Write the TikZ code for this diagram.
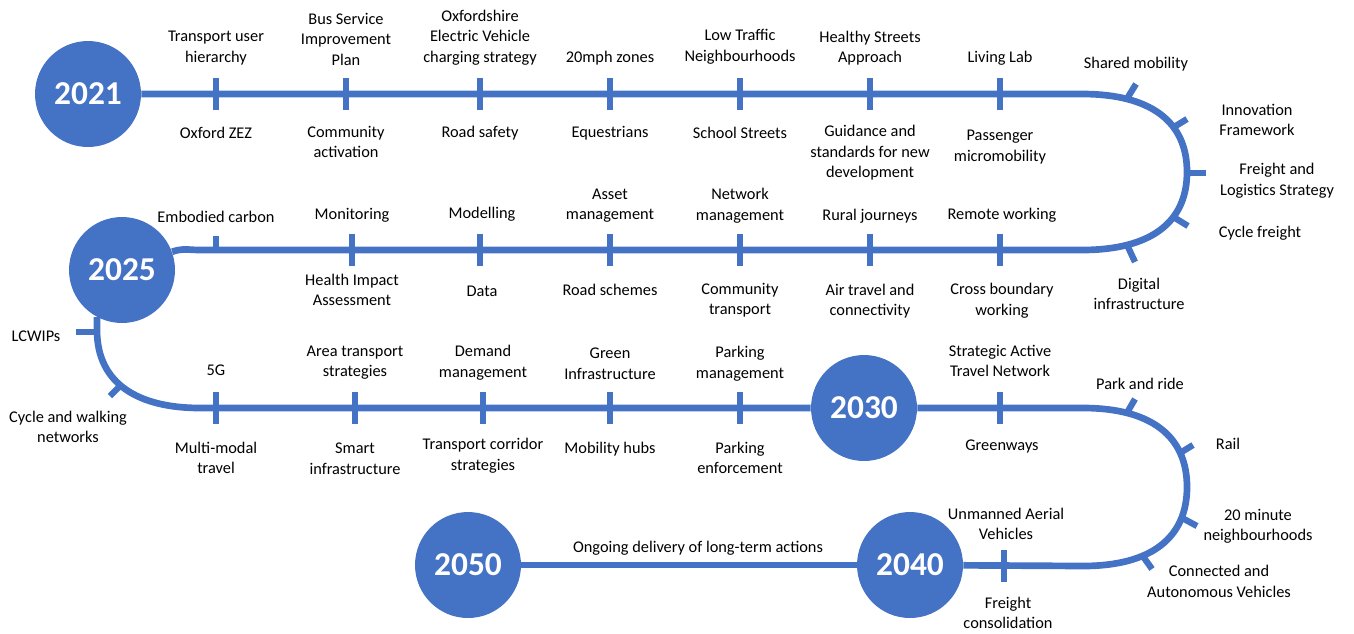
\documentclass[tikz,border=0pt]{standalone}
\usepackage{fontspec}
\setmainfont{Carlito}
\usetikzlibrary{backgrounds}
\definecolor{ltpblue}{HTML}{4472C4}

\begin{document}
\begin{tikzpicture}[x=0.02cm,y=-0.02cm,
    year/.style={circle,fill=ltpblue,inner sep=0pt,minimum size=2.12cm,text=white,font=\fontsize{19}{22}\selectfont\bfseries},
    lbl/.style={align=center,inner sep=0pt,yshift=-0.8pt,font=\fontsize{9.3}{11.6}\selectfont},
    track/.style={draw=ltpblue,line width=3.8pt},
    tick/.style={draw=ltpblue,line width=3.6pt}]
  \useasboundingbox (0,0) rectangle (1354,633);
  % years
  \node[year] (y2021) at (88,94) {2021};
  \node[year] (y2025) at (122,270) {2025};
  \node[year] (y2030) at (864,408) {2030};
  \node[year] (y2040) at (910,565) {2040};
  \node[year] (y2050) at (468,565) {2050};
  % track
  \begin{scope}[on background layer]
    \draw[track] (y2021) -- (1082,94) .. controls (1150,94) and (1187,121) .. (1187,172)
      .. controls (1187,223) and (1150,250) .. (1082,250) -- (200,250) to[out=180,in=20] (y2025);
    \draw[track] (y2025.242) -- (97,330) .. controls (97,385) and (140,408) .. (200,408) -- (y2030);
    \draw[track] (y2030) -- (1083,408) .. controls (1151,408) and (1187,436) .. (1187,487)
      .. controls (1187,538) and (1151,566) .. (1083,566) -- (y2040);
    \draw[track] (y2040) -- (y2050);
  \end{scope}
  % ticks
  \foreach \x in {216,346,480,610,740,870,1000} \draw[tick] (\x,78) -- (\x,110);
  \draw[tick] (216,236) -- (216,250);
  \foreach \x in {352,480,610,740,870,1000} \draw[tick] (\x,234) -- (\x,266);
  \foreach \x in {216,355,483,610,740,1000} \draw[tick] (\x,392) -- (\x,424);
  \draw[tick] (1004,550) -- (1004,582);
  \draw[tick] (1128,97) -- (1136,84);
  \draw[tick] (1174,127) -- (1187,119);
  \draw[tick] (1187,173) -- (1206,173);
  \draw[tick] (1175,218) -- (1188,226);
  \draw[tick] (1128,247) -- (1135,262);
  \draw[tick] (97,332) -- (76,332);
  \draw[tick] (121,385) -- (110,396);
  \draw[tick] (1128,411) -- (1135,399);
  \draw[tick] (1180,453) -- (1193,445);
  \draw[tick] (1184,519) -- (1197,526);
  \draw[tick] (1142,555) -- (1152,569);
  % labels, first row
  \node[lbl] (tuh) at (216,46.5) {Transport user\\hierarchy};
  \node[lbl] (bsip) at (346,38) {Bus Service\\Improvement\\Plan};
  \node[lbl] (oev) at (480,36) {Oxfordshire\\Electric Vehicle\\charging strategy};
  \node[lbl] (mph) at (610,57) {20mph zones};
  \node[lbl] (ltn) at (740,45.5) {Low Traffic\\Neighbourhoods};
  \node[lbl] (hsa) at (870,46.5) {Healthy Streets\\Approach};
  \node[lbl] (lvl) at (1000,57) {Living Lab};
  \node[lbl] (zez) at (216,131) {Oxford ZEZ};
  \node[lbl] (cac) at (346,140.5) {Community\\activation};
  \node[lbl] (rsf) at (480,132) {Road safety};
  \node[lbl] (equ) at (610,132) {Equestrians};
  \node[lbl] (sst) at (740,131) {School Streets};
  \node[lbl] (gsd) at (870,151.5) {Guidance and\\standards for new\\development};
  \node[lbl] (pmm) at (1000,145.5) {Passenger\\micromobility};
  \node[lbl] (shm) at (1136,63) {Shared mobility};
  \node[lbl] (inf) at (1257,118.5) {Innovation\\Framework};
  \node[lbl] (fls) at (1277,179.5) {Freight and\\Logistics Strategy};
  \node[lbl] (cfr) at (1260,232) {Cycle freight};
  \node[lbl] (din) at (1139,292.5) {Digital\\infrastructure};
  % second row
  \node[lbl] (emc) at (216,215) {Embodied carbon};
  \node[lbl] (mon) at (352,214) {Monitoring};
  \node[lbl] (mdl) at (482,213) {Modelling};
  \node[lbl] (asm) at (610,204.5) {Asset\\management};
  \node[lbl] (nwm) at (740,204.5) {Network\\management};
  \node[lbl] (rur) at (870,215) {Rural journeys};
  \node[lbl] (rmw) at (1002,214) {Remote working};
  \node[lbl] (hia) at (352,288.5) {Health Impact\\Assessment};
  \node[lbl] (dat) at (482,290) {Data};
  \node[lbl] (rds) at (610,288) {Road schemes};
  \node[lbl] (cot) at (740,298.5) {Community\\transport};
  \node[lbl] (atc) at (870,299.5) {Air travel and\\connectivity};
  \node[lbl] (cbw) at (1002,299.5) {Cross boundary\\working};
  \node[lbl] (lcw) at (36,335) {LCWIPs};
  \node[lbl] (cwn) at (68,425.5) {Cycle and walking\\networks};
  % third row
  \node[lbl] (fiveg) at (216,369) {5G};
  \node[lbl] (ats) at (355,361.5) {Area transport\\strategies};
  \node[lbl] (dem) at (483,361.5) {Demand\\management};
  \node[lbl] (gin) at (610,362.5) {Green\\Infrastructure};
  \node[lbl] (pkm) at (740,362.5) {Parking\\management};
  \node[lbl] (sat) at (1000,359.5) {Strategic Active\\Travel Network};
  \node[lbl] (mmt) at (216,456.5) {Multi-modal\\travel};
  \node[lbl] (smi) at (355,457.5) {Smart\\infrastructure};
  \node[lbl] (tcs) at (483,454.5) {Transport corridor\\strategies};
  \node[lbl] (mhb) at (610,448) {Mobility hubs};
  \node[lbl] (pke) at (740,456.5) {Parking\\enforcement};
  \node[lbl] (grw) at (1002,445) {Greenways};
  \node[lbl] (pnr) at (1140,382) {Park and ride};
  \node[lbl] (rai) at (1228,442) {Rail};
  \node[lbl] (tmn) at (1258,525) {20 minute\\neighbourhoods};
  \node[lbl] (cav) at (1219,580) {Connected and\\Autonomous Vehicles};
  % last row
  \node[lbl] (uav) at (1006,522.5) {Unmanned Aerial\\Vehicles};
  \node[lbl] (frc) at (1008,611.5) {Freight\\consolidation};
  \node[lbl] (ogd) at (698,547) {Ongoing delivery of long-term actions};
\end{tikzpicture}
\end{document}
